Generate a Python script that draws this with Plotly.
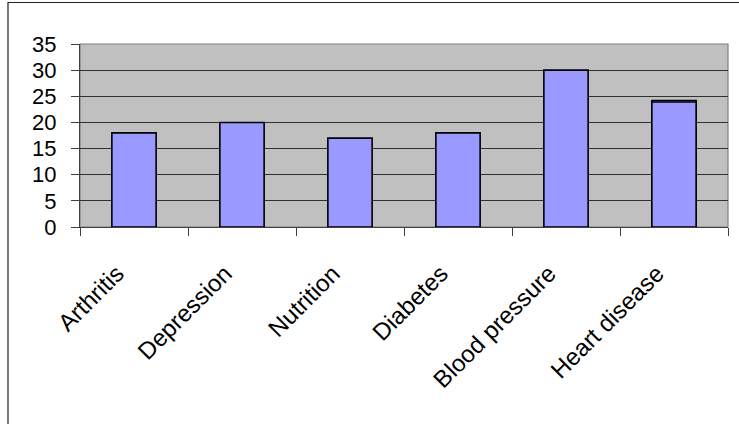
import plotly.graph_objects as go

# Survey topics and counts
categories = ["Arthritis", "Depression", "Nutrition", "Diabetes", "Blood pressure", "Heart disease"]
counts = [18, 20, 17, 18, 30, 24.2]
# second series, only present for Heart disease (drawn overlaid)
counts_b = [None, None, None, None, None, 23.9]
y_ticks = [0, 5, 10, 15, 20, 25, 30, 35]

W, H = 739, 424
L, R, T, B = 80, 11, 44, 197
pw, ph = W - L - R, H - T - B

family = "Liberation Sans, Arial, sans-serif"
y_font = dict(family=family, size=22, color="#000000")
x_font = dict(family=family, size=24, color="#000000")
bar_style = dict(color="#9999FF", line=dict(color="#000000", width=1.6))

fig = go.Figure()
fig.add_trace(go.Bar(x=categories, y=counts, marker=bar_style, width=0.41,
                     showlegend=False, hoverinfo="x+y"))
fig.add_trace(go.Bar(x=categories, y=counts_b, marker=bar_style, width=0.41,
                     showlegend=False, hoverinfo="x+y"))

def px_x(p):
    return (p - L) / pw

def px_y(p):
    return (T + ph - p) / ph

# outer chart frame (left and top edges fall inside the page)
fig.add_shape(type="rect", xref="paper", yref="paper",
              x0=px_x(8), x1=px_x(760), y0=px_y(440), y1=px_y(2.5),
              line=dict(color="#222222", width=1.2), fillcolor="rgba(0,0,0,0)", layer="below")
# plot-area border
fig.add_shape(type="rect", xref="paper", yref="paper", x0=0, x1=1, y0=0, y1=1,
              line=dict(color="#808080", width=1.2), fillcolor="rgba(0,0,0,0)", layer="below")

fig.update_layout(
    width=W, height=H,
    margin=dict(l=L, r=R, t=T, b=B, pad=0),
    paper_bgcolor="#FFFFFF",
    plot_bgcolor="#C0C0C0",
    barmode="overlay",
    font=y_font,
    xaxis=dict(
        type="category", tickangle=-45, ticks="outside", ticklen=8, tickwidth=1,
        tickcolor="#404040", tickson="boundaries", showline=True, linecolor="#404040",
        linewidth=1, showgrid=False, tickfont=x_font,
        ticklabelstandoff=22, ticklabelshift=-17,
    ),
    yaxis=dict(
        range=[0, 35], tickvals=y_ticks, ticks="outside", ticklen=8, tickwidth=1,
        tickcolor="#404040", showline=True, linecolor="#404040", linewidth=1,
        showgrid=True, gridcolor="#303030", gridwidth=1, zeroline=False,
        tickfont=y_font, ticklabelstandoff=10,
    ),
)

fig.write_html("out.html")
